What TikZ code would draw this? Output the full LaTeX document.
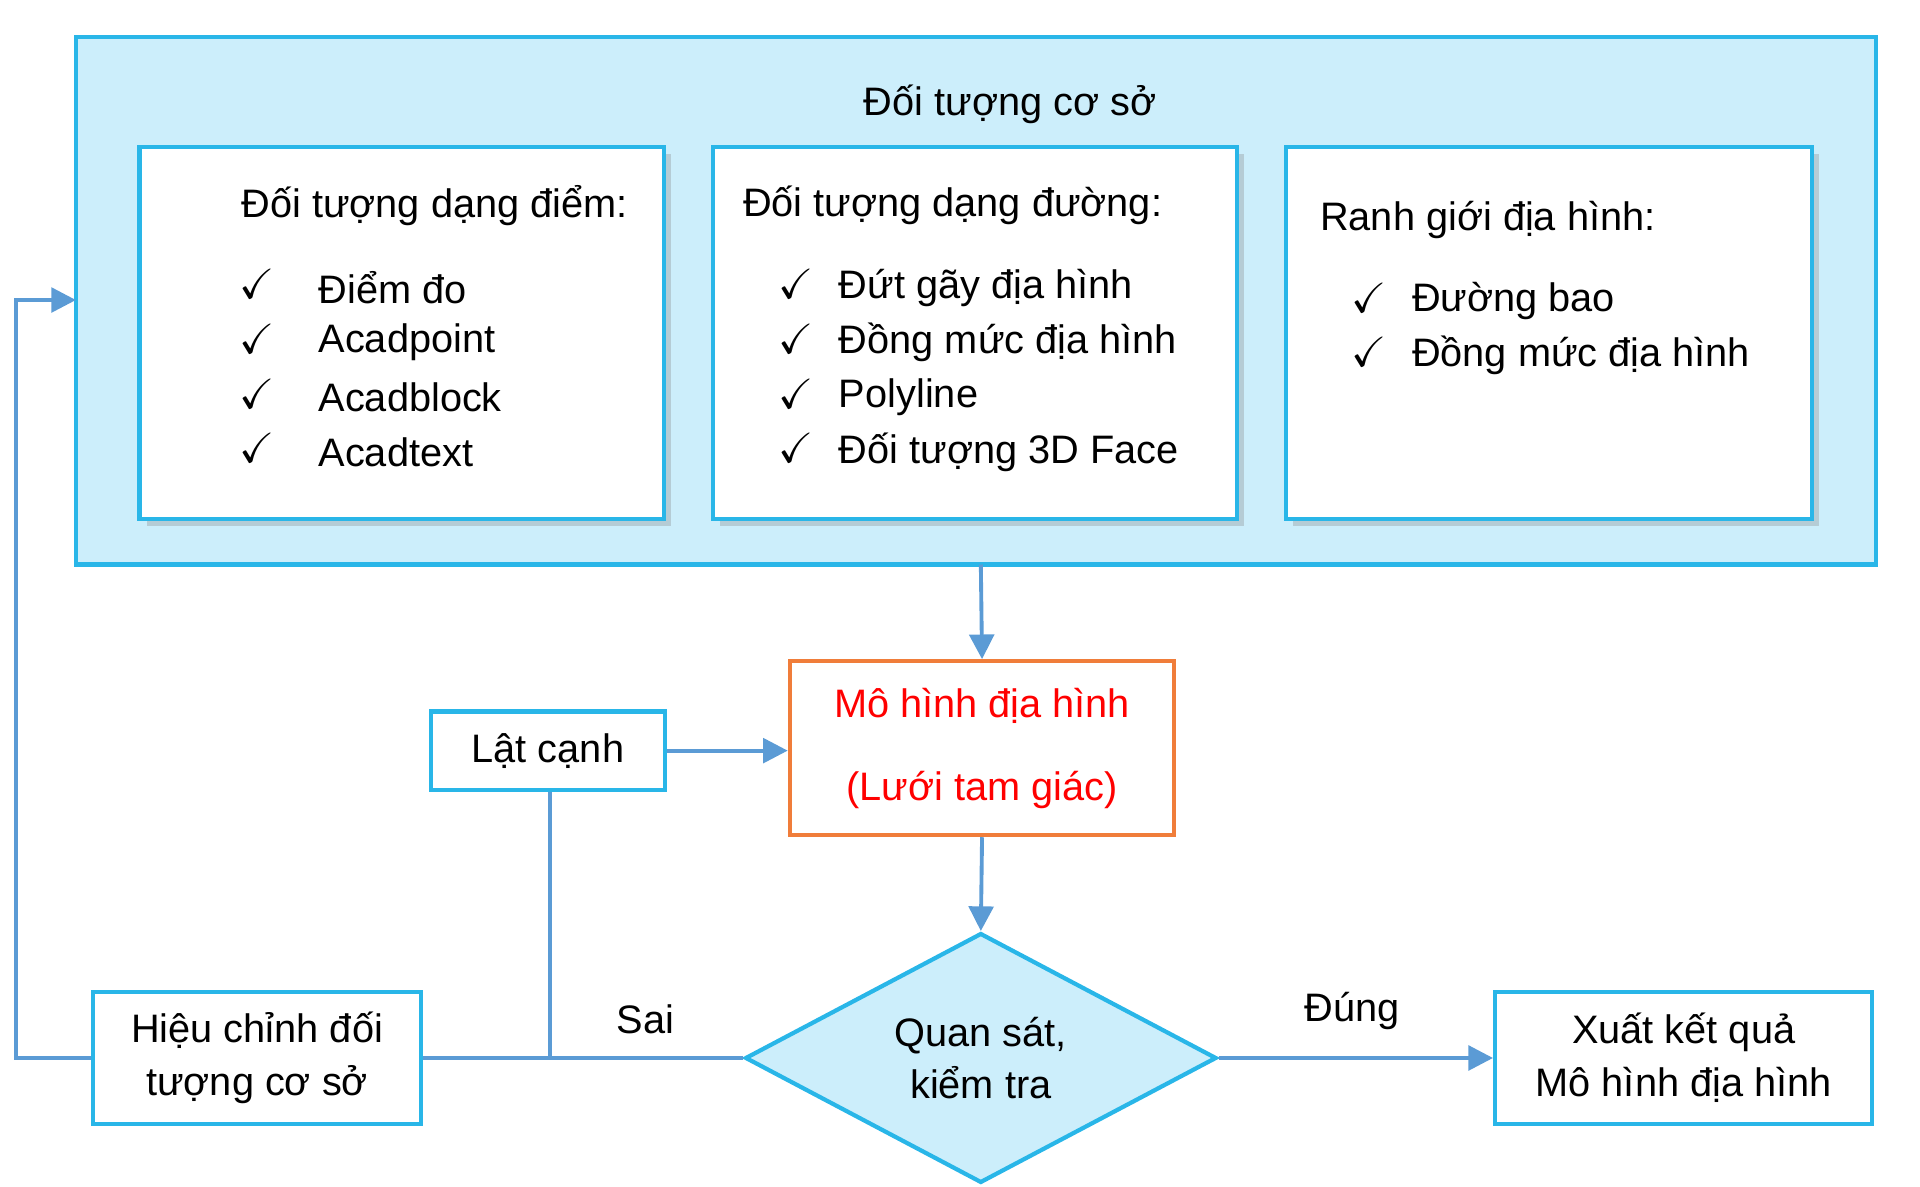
\documentclass[tikz,border=0pt]{standalone}
\usepackage{amssymb}
\usepackage{fontspec}
\setmainfont{Liberation Sans}
\usetikzlibrary{shapes.geometric,arrows.meta,shadows}
\definecolor{bd}{HTML}{29B6E8}
\definecolor{fl}{HTML}{CCEEFB}
\definecolor{ar}{HTML}{5B9BD5}
\definecolor{og}{HTML}{F07D3A}
\begin{document}
\begin{tikzpicture}[x=0.012245cm,y=-0.012245cm,
 every node/.style={font=\fontsize{11.3}{15}\selectfont},
 box/.style={draw=bd,line width=1.2pt,fill=white},
 sbox/.style={box,drop shadow={shadow xshift=2pt,shadow yshift=-2pt,opacity=0.3}},
 arr/.style={draw=ar,line width=1.1pt,-{Triangle[length=7pt,width=7pt]}},
 ln/.style={draw=ar,line width=1.1pt},
 ck/.style={anchor=center,font=\fontsize{12}{12}\selectfont\boldmath}]
\useasboundingbox (0,0) rectangle (1568,969);
\draw[draw=bd,line width=1.2pt,fill=fl] (62,30) rectangle (1532,461);
\coordinate (outerB) at (801,461);
\coordinate (outerL) at (62,245);
\node (title) at (825,85) {Đối tượng cơ sở};
\draw[sbox] (114,120) rectangle (542,424);
\draw[sbox] (582,120) rectangle (1010,424);
\draw[sbox] (1050,120) rectangle (1480,424);
\node (h1) at (355,168) {Đối tượng dạng điểm:};
\foreach \t [count=\i] in {Điểm đo,Acadpoint,Acadblock,Acadtext}{
 \node[ck] (c1\i) at (210,{235+44.7*(\i-1)-3}) {$\checkmark$};
 \node[anchor=west] (t1\i) at (250,{235+44.7*(\i-1)}) {\t};}
\node (h2) at (778,168) {Đối tượng dạng đường:};
\foreach \t [count=\i] in {Đứt gãy địa hình,Đồng mức địa hình,Polyline,Đối tượng 3D Face}{
 \node[ck] (c2\i) at (650,{235+44.7*(\i-1)-3}) {$\checkmark$};
 \node[anchor=west] (t2\i) at (675,{235+44.7*(\i-1)}) {\t};}
\node[anchor=west] (h3) at (1068,180) {Ranh giới địa hình:};
\foreach \t [count=\i] in {Đường bao,Đồng mức địa hình}{
 \node[ck] (c3\i) at (1118,{246+44*(\i-1)-3}) {$\checkmark$};
 \node[anchor=west] (t3\i) at (1143,{246+44*(\i-1)}) {\t};}
\node[draw=og,line width=1.2pt,minimum width=314*0.012245cm,minimum height=142*0.012245cm,text=red,align=center] (mh) at (802,611) {Mô hình địa hình\\[0.3cm](Lưới tam giác)};
\node[box,minimum width=191*0.012245cm,minimum height=64*0.012245cm] (lc) at (447.5,613) {Lật cạnh};
\node[draw=bd,line width=1.2pt,fill=fl,diamond,aspect=1.89,minimum width=385*0.012245cm,minimum height=204*0.012245cm,inner sep=0pt,align=center] (qs) at (801,864) {Quan sát,\\kiểm tra};
\node[box,minimum width=268*0.012245cm,minimum height=108*0.012245cm,align=center] (hc) at (210,864) {Hiệu chỉnh đối\\tượng cơ sở};
\node[box,minimum width=308*0.012245cm,minimum height=108*0.012245cm,align=center] (xk) at (1375,864) {Xuất kết quả\\Mô hình địa hình};
\coordinate (j) at (449,864);
\node (sai) at (527,832) {Sai};
\node (dung) at (1104,826) {Đúng};
\draw[arr] (outerB) -- (mh.north);
\draw[arr] (mh.south) -- (qs.north);
\draw[arr] (lc.east) -- (mh.west |- lc.east);
\draw[arr] (qs.east) -- (xk.west);
\draw[ln] (qs.west) -- (hc.east);
\draw[ln] (lc.south -| j) -- (j);
\draw[arr] (hc.west) -- (13,864) -- (13,245) -- (outerL);
\end{tikzpicture}
\end{document}
